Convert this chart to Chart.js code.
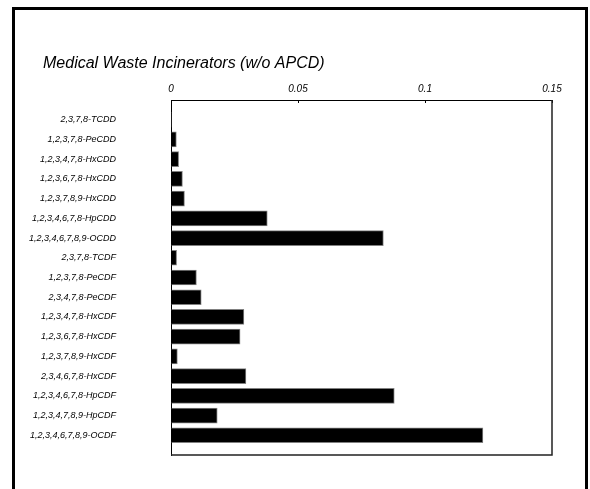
<!DOCTYPE html>
<html>
<head>
<meta charset="utf-8">
<script src="https://cdn.jsdelivr.net/npm/chart.js@4"></script>
<style>
  body { margin: 0; background: #fff; }
  #wrap { position: relative; width: 590px; height: 489px; overflow: hidden; }
  #frame { position: absolute; left: 12px; top: 7px; width: 570px; height: 500px;
           border: 3px solid #000; border-bottom: none; pointer-events: none; }
</style>
</head>
<body>
<div id="wrap">
  <canvas id="wasteChart" width="590" height="489"></canvas>
  <div id="frame"></div>
</div>
<script>
// congeners, top to bottom
const congeners = [
    '2,3,7,8-TCDD',
    '1,2,3,7,8-PeCDD',
    '1,2,3,4,7,8-HxCDD',
    '1,2,3,6,7,8-HxCDD',
    '1,2,3,7,8,9-HxCDD',
    '1,2,3,4,6,7,8-HpCDD',
    '1,2,3,4,6,7,8,9-OCDD',
    '2,3,7,8-TCDF',
    '1,2,3,7,8-PeCDF',
    '2,3,4,7,8-PeCDF',
    '1,2,3,4,7,8-HxCDF',
    '1,2,3,6,7,8-HxCDF',
    '1,2,3,7,8,9-HxCDF',
    '2,3,4,6,7,8-HxCDF',
    '1,2,3,4,6,7,8-HpCDF',
    '1,2,3,4,7,8,9-HpCDF',
    '1,2,3,4,6,7,8,9-OCDF'
];
const emissions = [0.0003, 0.0021, 0.003, 0.0045, 0.0053, 0.0379, 0.0836, 0.0022, 0.0100, 0.0119,
                   0.0287, 0.0272, 0.0025, 0.0295, 0.0879, 0.0182, 0.1228];
const xTicks = [0, 0.05, 0.1, 0.15];

const fontFamily = '"Liberation Sans", Arial, sans-serif';

// right + bottom edges of the plot box, and nudge the title in from the labels
const plotBox = {
    id: 'plotBox',
    afterLayout(chart) {
        if (chart.titleBlock) chart.titleBlock.left = 43;
    },
    afterDraw(chart) {
        const {ctx, chartArea: a} = chart;
        ctx.save();
        ctx.strokeStyle = '#222';
        ctx.lineWidth = 1.5;
        ctx.beginPath();
        ctx.moveTo(a.left, a.bottom);
        ctx.lineTo(a.right, a.bottom);
        ctx.lineTo(a.right, a.top);
        ctx.stroke();
        ctx.restore();
    }
};

const wasteData = {
    datasets: [{
        data: emissions.map((v, i) => ({x: v, y: i})),
        backgroundColor: '#000',
        borderColor: '#808080',
        borderWidth: 1,
        borderSkipped: 'start',
        barThickness: 15
    }]
};

const wasteConfig = {
    type: 'bar',
    data: wasteData,
    options: {
        responsive: false,
        animation: false,
        indexAxis: 'y',
        layout: { padding: { left: 15, right: 38, top: 0, bottom: 34 } },
        scales: {
            x: {
                position: 'top',
                min: 0,
                max: 0.15,
                afterBuildTicks: (scale) => { scale.ticks = xTicks.map(v => ({value: v})); },
                ticks: {
                    color: '#000',
                    padding: 8,
                    maxRotation: 0,
                    font: { family: fontFamily, size: 10, style: 'italic' },
                    callback: (v) => String(v)
                },
                grid: { drawOnChartArea: false, tickLength: -3, color: '#000' },
                border: { color: '#000', width: 1 }
            },
            y: {
                type: 'linear',
                reverse: true,
                offset: false,
                min: -1,
                max: 17,
                afterFit: (scale) => { scale.width = 156; },
                ticks: {
                    stepSize: 1,
                    color: '#000',
                    padding: 0,
                    autoSkip: false,
                    font: { family: fontFamily, size: 9, style: 'italic' },
                    callback: (v) => congeners[v] ?? ''
                },
                // invisible tick marks keep the labels away from the plot
                grid: { offset: false, drawOnChartArea: false, tickLength: 55, color: 'rgba(0,0,0,0)' },
                border: { color: '#000', width: 1 }
            }
        },
        plugins: {
            legend: { display: false },
            tooltip: { enabled: false },
            title: {
                display: true,
                text: 'Medical Waste Incinerators (w/o APCD)',
                align: 'start',
                color: '#000',
                font: { family: fontFamily, size: 16, style: 'italic', weight: 'normal', lineHeight: 1.125 },
                padding: { top: 55, bottom: 2 }
            }
        }
    },
    plugins: [plotBox]
};

const wasteChart = new Chart(document.querySelector('#wasteChart'), wasteConfig);
</script>
</body>
</html>
